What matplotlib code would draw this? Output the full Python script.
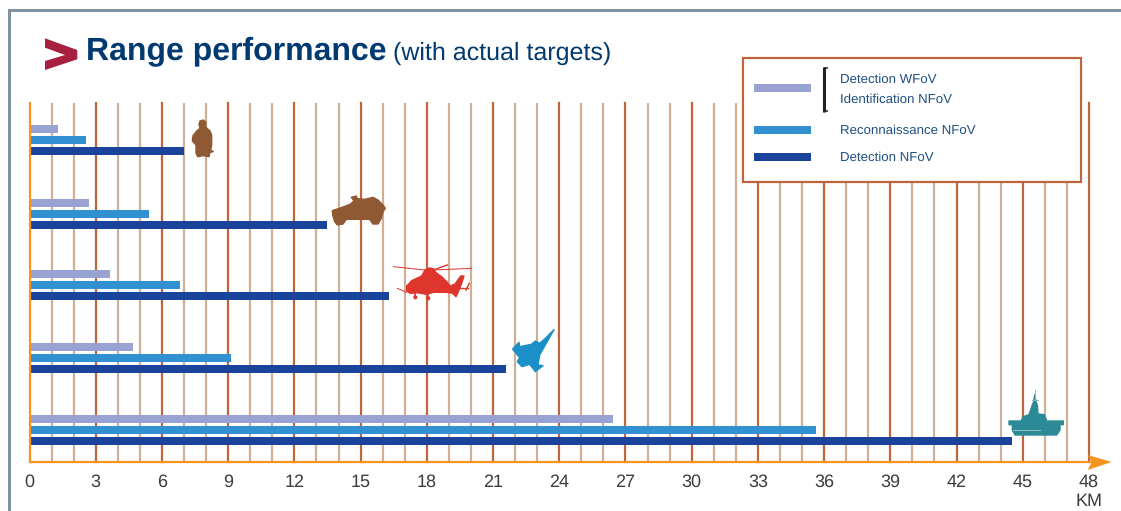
import matplotlib
matplotlib.use("Agg")
import matplotlib.pyplot as plt
from matplotlib.patches import Polygon, Rectangle, Circle

plt.rcParams['font.family'] = ['Liberation Sans', 'DejaVu Sans']
plt.rcParams['text.hinting'] = 'none'

# range in km for each target, top to bottom
targets = ["soldier", "vehicle", "helicopter", "jet", "ship"]
detection_wfov = [1.27, 2.7, 3.65, 4.7, 26.45]
reconnaissance_nfov = [2.54, 5.4, 6.8, 9.13, 35.65]
detection_nfov = [7.02, 13.5, 16.3, 21.6, 44.5]
major_ticks = list(range(0, 49, 3))
minor_ticks = [k for k in range(1, 48) if k % 3 != 0]

# colours
c_wfov = "#98a3d3"
c_recon = "#3090d0"
c_nfov = "#1a449b"
c_major = "#c0643a"
c_minor = "#cfb094"
c_axis = "#f7941d"
c_navy = "#003a70"
c_legend = "#1f4e80"

W, H = 1121, 511
fig = plt.figure(figsize=(W / 100, H / 100), dpi=100, facecolor="white")

# main axes, y axis is in pixels so the groups sit where they do in the picture
x0, x1, y0, y1 = 29.5, 1089, 103, 462
ax = fig.add_axes([x0 / W, 1 - y1 / H, (x1 - x0) / W, (y1 - y0) / H])
ax.set_xlim(0, 48)
ax.set_ylim(y1, y0)
group_y = [140.5, 214, 285, 358, 430]
gap = 11
for k in minor_ticks:
    ax.axvline(k, color=c_minor, lw=1.6, zorder=1)
for k in major_ticks[1:]:
    ax.axvline(k, color=c_major, lw=1.6, zorder=1, clip_on=False)
ax.barh([y - gap for y in group_y], detection_wfov, height=8, color=c_wfov, zorder=2)
ax.barh(group_y, reconnaissance_nfov, height=8, color=c_recon, zorder=2)
ax.barh([y + gap for y in group_y], detection_nfov, height=8, color=c_nfov, zorder=2)

for s in ["top", "right"]:
    ax.spines[s].set_visible(False)
ax.spines["left"].set_color(c_axis)
ax.spines["left"].set_linewidth(1.6)
ax.spines["left"].set_zorder(3)
ax.spines["bottom"].set_visible(False)
ax.set_yticks([])
ax.set_xticks(major_ticks)
ax.tick_params(axis="x", length=0, pad=18, labelsize=13, labelcolor="#3c3c3c")
for lab in ax.get_xticklabels():
    lab.set_verticalalignment("baseline")
ax.patch.set_alpha(0)

# overlay in pixel coordinates for frame, title, legend and the silhouettes
ov = fig.add_axes([0, 0, 1, 1], zorder=5)
ov.set_xlim(0, W)
ov.set_ylim(H, 0)
ov.axis("off")

# outer frame
ov.plot([8.5, 8.5, W + 2], [H + 2, 10, 10], color="#7f929e", lw=2.2, solid_joinstyle="miter")

# axis line and arrow
ov.plot([x0, 1095], [462, 462], color=c_axis, lw=1.6)
ov.add_patch(Polygon([(1087.7, 455), (1111.7, 462), (1087.7, 470), (1091.7, 462)], color=c_axis, lw=0))
ov.text(1089.5, 506, "KM", ha="center", va="baseline", fontsize=13, color="#3c3c3c")

# title
ov.add_patch(Polygon([(45, 38.3), (77.3, 50), (77.3, 59.3), (45, 70), (45, 61), (65, 55), (45, 47.7)],
                     color="#a8203f", lw=0))
ov.text(86, 59.5, "Range performance", fontsize=23, fontweight="bold", color=c_navy, va="baseline")
ov.text(393, 59.5, "(with actual targets)", fontsize=18, color=c_navy, va="baseline")

# legend box
ov.add_patch(Rectangle((743, 58), 338, 124, fc="white", ec=c_major, lw=1.6))
for yy, col in [(88, c_wfov), (130, c_recon), (157, c_nfov)]:
    ov.add_patch(Rectangle((754, yy - 4), 57, 8, color=col, lw=0))
ov.plot([824.3, 824.3], [67, 112], color="#222222", lw=2.2, solid_capstyle="butt")
ov.plot([824, 828], [67.7, 67.7], color="#222222", lw=1.1, solid_capstyle="butt")
ov.plot([824, 828], [111, 111], color="#222222", lw=1.1, solid_capstyle="butt")
for yy, txt in [(82.5, "Detection WFoV"), (103.3, "Identification NFoV"),
                (134.3, "Reconnaissance NFoV"), (161.3, "Detection NFoV")]:
    ov.text(840, yy, txt, fontsize=9.5, color=c_legend, va="baseline")


def shape(points, dx, dy, color):
    ov.add_patch(Polygon([(dx + a / 3, dy + b / 3) for a, b in points], color=color, lw=1.0,
                         joinstyle="round"))


def thin(a, b, dx, dy, color, lw=0.7):
    ov.plot([dx + a[0] / 3, dx + b[0] / 3], [dy + a[1] / 3, dy + b[1] / 3], color=color, lw=lw)


# soldier
shape([(45, 18), (55, 15), (63, 22), (62, 36), (75, 48), (80, 60), (80, 90), (77, 105), (85, 110),
       (75, 112), (72, 125), (55, 122), (38, 125), (33, 115), (33, 90), (22, 78), (24, 62), (35, 48),
       (45, 40), (42, 28)], 185, 115, "#8f5a33")
# vehicle
shape([(13, 62), (48, 50), (68, 42), (78, 32), (70, 22), (85, 18), (88, 26), (110, 28), (135, 22),
       (150, 30), (165, 45), (172, 55), (165, 65), (160, 85), (150, 102), (135, 102), (125, 88),
       (55, 88), (45, 102), (28, 105), (20, 95), (14, 75)], 328, 190, "#8f5a33")
# helicopter
c_heli = "#de352c"
hx, hy = 390, 260
shape([(50, 78), (65, 62), (95, 48), (105, 30), (118, 24), (130, 26), (138, 38), (155, 50), (170, 65),
       (180, 78), (195, 72), (212, 48), (222, 48), (215, 70), (205, 95), (198, 110), (188, 100),
       (170, 97), (130, 97), (110, 103), (80, 98), (60, 100), (50, 92)], hx, hy, c_heli)
thin((10, 20), (105, 30), hx, hy, c_heli)
thin((130, 30), (245, 25), hx, hy, c_heli)
thin((135, 28), (172, 15), hx, hy, c_heli, 1.0)
thin((238, 70), (228, 90), hx, hy, c_heli, 1.0)
thin((205, 85), (235, 85), hx, hy, c_heli, 1.0)
thin((22, 85), (50, 97), hx, hy, c_heli)
thin((76, 98), (76, 112), hx, hy, c_heli, 1.2)
thin((112, 100), (115, 115), hx, hy, c_heli, 1.2)
ov.add_patch(Circle((hx + 76 / 3, hy + 112 / 3), 2.0, color=c_heli, lw=0))
ov.add_patch(Circle((hx + 115 / 3, hy + 115 / 3), 2.0, color=c_heli, lw=0))
# jet
shape([(138, 14), (112, 40), (95, 55), (82, 48), (70, 58), (35, 65), (33, 52), (14, 72), (35, 98),
       (28, 110), (42, 125), (65, 118), (82, 140), (105, 122), (90, 120), (95, 90), (112, 60)],
      508, 325, "#1b90c8")
# ship
c_ship = "#2b8a96"
sx, sy = 1005, 390
shape([(12, 93), (48, 93), (55, 80), (72, 74), (82, 45), (86, 35), (89, 15), (93, 35), (97, 45),
       (99, 72), (118, 74), (125, 93), (175, 93), (175, 104), (165, 104), (165, 120), (155, 135),
       (30, 135), (22, 120), (22, 107), (48, 104), (12, 104)], sx, sy, c_ship)
thin((90, 0), (90, 30), sx, sy, "#7fb8bf", 0.7)
thin((82, 30), (100, 30), sx, sy, "#7fb8bf", 0.7)
thin((25, 121), (105, 121), sx, sy, "#a5d0d5", 0.6)

fig.savefig("out.png", dpi=100)
